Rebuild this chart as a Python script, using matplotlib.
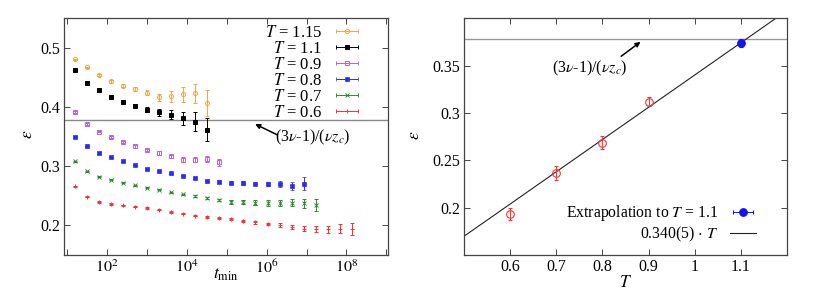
import matplotlib
matplotlib.use("Agg")
import matplotlib.pyplot as plt
from matplotlib.container import ErrorbarContainer
from matplotlib.legend_handler import HandlerErrorbar
from matplotlib.ticker import FixedLocator, FuncFormatter, LogLocator, NullLocator
import numpy as np

plt.rcParams['font.family'] = ['Liberation Serif', 'DejaVu Serif']
plt.rcParams['mathtext.fontset'] = 'stix'

# ---------------- data ----------------
tmin = [16, 32, 64, 128, 256, 512, 1024, 2048, 4096, 8192, 16384, 32768,
        65536, 131072, 262144, 524288, 1048576, 2097152, 4194304, 8388608,
        16777216, 33554432, 67108864, 134217728]

eps_115 = [0.480, 0.467, 0.454, 0.443, 0.436, 0.430, 0.424, 0.416, 0.418, 0.421, 0.423, 0.406]
err_115 = [0.001, 0.001, 0.0015, 0.002, 0.002, 0.003, 0.004, 0.006, 0.009, 0.013, 0.016, 0.022]

eps_11 = [0.4616, 0.4395, 0.4283, 0.4175, 0.408, 0.402, 0.3955, 0.391, 0.387, 0.381, 0.3746, 0.3616]
err_11 = [0.001, 0.001, 0.0015, 0.0015, 0.002, 0.003, 0.004, 0.006, 0.008, 0.011, 0.016, 0.020]

eps_09 = [0.3915, 0.371, 0.358, 0.3486, 0.3407, 0.3333, 0.3277, 0.322, 0.3164, 0.3107,
          0.3107, 0.312, 0.3068]
err_09 = [0.001, 0.001, 0.001, 0.0015, 0.002, 0.002, 0.002, 0.003, 0.003, 0.004,
          0.004, 0.005, 0.006]

eps_08 = [0.3497, 0.3333, 0.322, 0.3147, 0.308, 0.3017, 0.2955, 0.2915, 0.2876, 0.2836,
          0.2797, 0.2751, 0.274, 0.2723, 0.2712, 0.2706, 0.270, 0.270, 0.2667, 0.270]
err_08 = [0.001, 0.001, 0.001, 0.001, 0.001, 0.001, 0.001, 0.001, 0.001, 0.0015,
          0.0015, 0.002, 0.002, 0.002, 0.003, 0.003, 0.004, 0.005, 0.007, 0.011]

eps_07 = [0.308, 0.291, 0.282, 0.2768, 0.2723, 0.2678, 0.2633, 0.2599, 0.2559, 0.2525,
          0.2492, 0.2458, 0.243, 0.2396, 0.239, 0.2384, 0.2384, 0.2384, 0.2384, 0.2373, 0.2345]
err_07 = [0.001, 0.001, 0.001, 0.001, 0.001, 0.001, 0.001, 0.001, 0.001, 0.001,
          0.0015, 0.002, 0.002, 0.003, 0.003, 0.004, 0.005, 0.005, 0.006, 0.008, 0.010]

eps_06 = [0.2661, 0.2486, 0.2395, 0.2362, 0.2339, 0.2316, 0.2294, 0.2266, 0.2226, 0.2198,
          0.2164, 0.2141, 0.2124, 0.2102, 0.2079, 0.2051, 0.2023, 0.2006, 0.1972, 0.1944,
          0.1944, 0.1932, 0.1944, 0.1944]
err_06 = [0.001, 0.001, 0.001, 0.001, 0.001, 0.001, 0.001, 0.001, 0.001, 0.001,
          0.001, 0.001, 0.0015, 0.0015, 0.002, 0.002, 0.002, 0.003, 0.003, 0.004,
          0.005, 0.006, 0.008, 0.010]

series_labels = ['$T$ = 1.15', '$T$ = 1.1', '$T$ = 0.9', '$T$ = 0.8', '$T$ = 0.7', '$T$ = 0.6']

exponent_value = 0.3785          # (3nu-1)/(nu z_c)

T_fit = [0.6, 0.7, 0.8, 0.9]
eps_fit = [0.1933, 0.2367, 0.2688, 0.3119]
err_fit = [0.006, 0.007, 0.007, 0.005]
T_extra = [1.1]
eps_extra = [0.374]
err_extra = [0.004]
fit_slope = 0.340

# ---------------- styles ----------------
styles = [
    dict(color='#f5a445', marker='o', mfc='none', ms=3.0, mew=0.7),
    dict(color='#000000', marker='s', mfc='#000000', ms=3.0, mew=0.7),
    dict(color='#b95fe8', marker='s', mfc='none', ms=3.0, mew=0.7),
    dict(color='#2a2aff', marker='s', mfc='#2a2aff', ms=2.2, mew=0.5),
    dict(color='#2e8b2e', marker='x', mfc='none', ms=2.6, mew=0.7),
    dict(color='#ff2e2e', marker='+', mfc='none', ms=3.2, mew=0.7),
]
eb_kw = dict(elinewidth=0.7, capsize=1.6, capthick=0.7, linestyle='none')

fig = plt.figure(figsize=(8.30, 3.02), dpi=100)
W, H = 830, 302
axL = fig.add_axes([64 / W, 1 - 255 / H, (388 - 64) / W, (255 - 18) / H])
axR = fig.add_axes([464.3 / W, 1 - 255 / H, (786.7 - 464.3) / W, (255 - 18.3) / H])

spine_col = '#444444'
for ax in (axL, axR):
    for s in ax.spines.values():
        s.set_color(spine_col)
        s.set_linewidth(0.9)
    ax.tick_params(which='both', direction='in', top=True, right=True,
                   length=4, width=0.7, color=spine_col, labelsize=11.5, pad=3)

# ---------------- left panel ----------------
axL.set_xscale('log')
all_eps = [eps_115, eps_11, eps_09, eps_08, eps_07, eps_06]
all_err = [err_115, err_11, err_09, err_08, err_07, err_06]
handles = []
for eps, err, st in zip(all_eps, all_err, styles):
    x = tmin[:len(eps)]
    axL.errorbar(x, eps, yerr=err, ecolor=st['color'], color=st['color'],
                 marker=st['marker'], mfc=st['mfc'], mec=st['color'], ms=st['ms'],
                 mew=st['mew'], **eb_kw)
    # proxy with horizontal error bar for the legend sample (gnuplot style)
    proxy = axL.errorbar([np.nan], [np.nan], xerr=[1.0], ecolor=st['color'],
                         color=st['color'], marker=st['marker'], mfc=st['mfc'],
                         mec=st['color'], ms=st['ms'], mew=st['mew'], **eb_kw)
    handles.append(proxy)

axL.axhline(exponent_value, color='#888888', lw=1.0, zorder=0)
axL.set_xlim(8.3, 1.1e9)
axL.set_ylim(0.15, 0.55)
axL.xaxis.set_major_locator(LogLocator(base=10, numticks=20))
axL.xaxis.set_minor_locator(NullLocator())
axL.xaxis.set_major_formatter(FuncFormatter(
    lambda v, p: (r'$10^{%d}$' % round(np.log10(v))) if round(np.log10(v)) % 2 == 0 else ''))
axL.yaxis.set_major_locator(FixedLocator([0.2, 0.3, 0.4, 0.5]))
axL.yaxis.set_major_formatter(FuncFormatter(lambda v, p: '%g' % v))
axL.set_xlabel(r'$t_{\mathrm{min}}$', fontsize=12.5, labelpad=-7)
axL.set_ylabel(r'$\epsilon$', fontsize=12.5)
axL.yaxis.set_label_coords(-0.086, 0.51)

axL.annotate('', xy=(10 ** 5.71, 0.371), xytext=(10 ** 6.26, 0.353),
             arrowprops=dict(arrowstyle='-|>', color='black', lw=1.1,
                             mutation_scale=7, shrinkA=0, shrinkB=0))
axL.text(10 ** 6.22, 0.349, r'(3$\nu$-1)/($\nu z_c$)', fontsize=11.5, va='center', ha='left')

axL.legend(handles, series_labels,
           handler_map={ErrorbarContainer: HandlerErrorbar(xerr_size=0.65)},
           loc='upper right', bbox_to_anchor=(0.935, 1.0), frameon=False,
           markerfirst=False, fontsize=12, handlelength=1.6, handletextpad=0.7,
           labelspacing=0.0, borderaxespad=0.0)

# ---------------- right panel ----------------
axR.set_xlim(0.5, 1.2)
axR.set_ylim(0.15, 0.40)
Tl = np.array(axR.get_xlim())
fit_line, = axR.plot(Tl, fit_slope * Tl, color='#222222', lw=0.8)
axR.axhline(exponent_value, color='#999999', lw=1.0, zorder=0)
axR.errorbar(T_fit, eps_fit, yerr=err_fit, color='#ff3030', marker='o', mfc='none',
             mec='#ff3030', ms=5.5, mew=0.8, **eb_kw)
axR.errorbar(T_extra, eps_extra, yerr=err_extra, color='#1414f0', marker='o',
             mfc='#1414f0', mec='#1414f0', ms=5.5, mew=0.8, **eb_kw)
proxyR = axR.errorbar([np.nan], [np.nan], xerr=[1.0], color='#1414f0', marker='o',
                      mfc='#1414f0', mec='#1414f0', ms=5.5, mew=0.8, **eb_kw)
axR.xaxis.set_major_locator(FixedLocator([0.6, 0.7, 0.8, 0.9, 1.0, 1.1]))
axR.yaxis.set_major_locator(FixedLocator([0.2, 0.25, 0.3, 0.35]))
axR.xaxis.set_major_formatter(FuncFormatter(lambda v, p: '%g' % round(v, 3)))
axR.yaxis.set_major_formatter(FuncFormatter(lambda v, p: '%g' % round(v, 3)))
axR.set_xlabel(r'$T$', fontsize=12.5, labelpad=0)
axR.set_ylabel(r'$\epsilon$', fontsize=12.5)
axR.yaxis.set_label_coords(-0.128, 0.505)

axR.annotate('', xy=(0.8826, 0.3751), xytext=(0.8406, 0.3599),
             arrowprops=dict(arrowstyle='-|>', color='black', lw=1.1,
                             mutation_scale=7, shrinkA=0, shrinkB=0))
axR.text(0.69, 0.3475, r'(3$\nu$-1)/($\nu z_c$)', fontsize=11.5, va='center', ha='left')

axR.legend([proxyR, fit_line],
           ['Extrapolation to $T$ = 1.1', r'0.340(5) $\cdot$ $T$'],
           handler_map={ErrorbarContainer: HandlerErrorbar(xerr_size=0.65)},
           loc='lower right', bbox_to_anchor=(0.925, 0.02),
           frameon=False, markerfirst=False, fontsize=11.3, handlelength=1.7,
           handletextpad=0.7, labelspacing=0.1, borderaxespad=0.0)

fig.savefig('out.png', dpi=100)
